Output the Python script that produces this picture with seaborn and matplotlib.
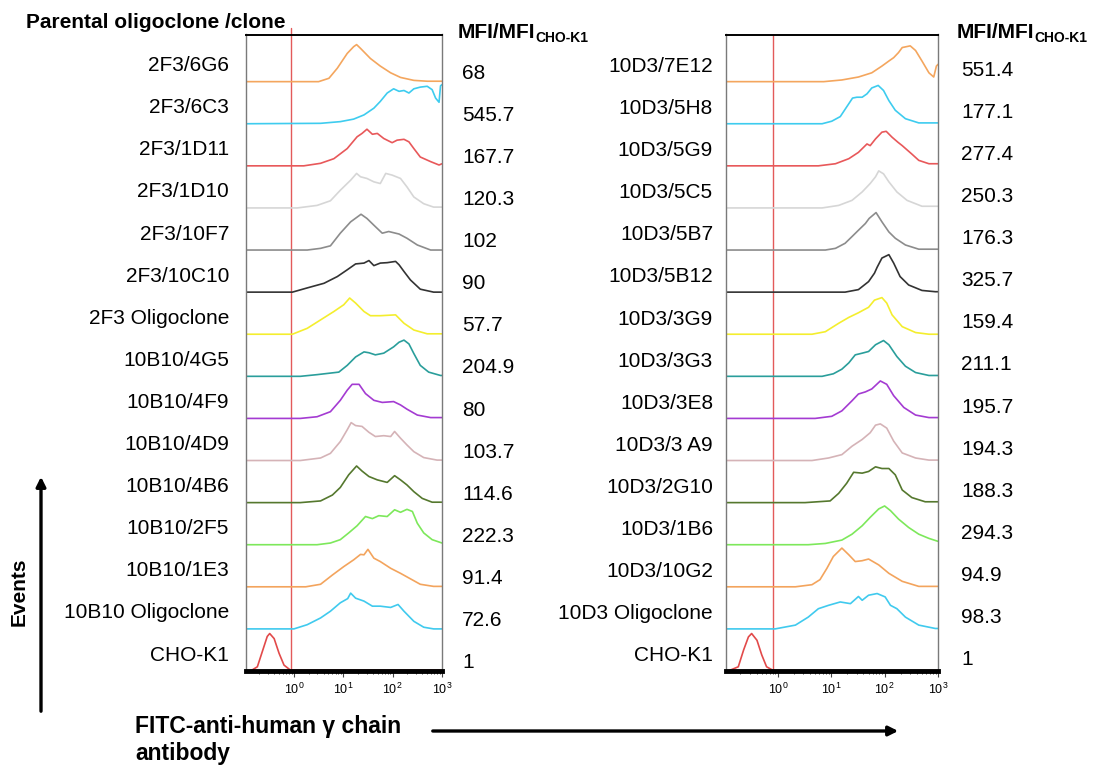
import numpy as np
import pandas as pd
import matplotlib
matplotlib.use("Agg")
import matplotlib.pyplot as plt
from matplotlib.patches import FancyArrowPatch
import seaborn as sns

# ==============================
# DATA
# each curve: (log10 FITC intensity, events relative to row height)
# ==============================
left_labels = ["2F3/6G6", "2F3/6C3", "2F3/1D11", "2F3/1D10", "2F3/10F7",
               "2F3/10C10", "2F3 Oligoclone", "10B10/4G5", "10B10/4F9",
               "10B10/4D9", "10B10/4B6", "10B10/2F5", "10B10/1E3",
               "10B10 Oligoclone", "CHO-K1"]
left_mfi = ["68", "545.7", "167.7", "120.3", "102", "90", "57.7", "204.9",
            "80", "103.7", "114.6", "222.3", "91.4", "72.6", "1"]

right_labels = ["10D3/7E12", "10D3/5H8", "10D3/5G9", "10D3/5C5", "10D3/5B7",
                "10D3/5B12", "10D3/3G9", "10D3/3G3", "10D3/3E8", "10D3/3 A9",
                "10D3/2G10", "10D3/1B6", "10D3/10G2", "10D3 Oligoclone",
                "CHO-K1"]
right_mfi = ["551.4", "177.1", "277.4", "250.3", "176.3", "325.7", "159.4",
             "211.1", "195.7", "194.3", "188.3", "294.3", "94.9", "98.3", "1"]

row_colors = ["#F4A65E", "#3ECCEF", "#E8585A", "#D6D6D6", "#8C8C8C",
              "#333333", "#F4EE2E", "#2A9E9B", "#A43BD2", "#D5B3B7",
              "#55782E", "#7DE85B", "#F3A45D", "#40CAEE", "#E24A4A"]

# left panel
c_2F3_6G6 = [(0.50, 0), (0.71, 0.08), (0.88, 0.32), (1.08, 0.67), (1.21, 0.83),
             (1.27, 0.88), (1.35, 0.79), (1.55, 0.55), (1.75, 0.37), (1.96, 0.21),
             (2.16, 0.10), (2.43, 0.03), (2.70, 0.01)]
c_2F3_6C3 = [(0.54, 0.01), (0.94, 0.05), (1.21, 0.11), (1.42, 0.21), (1.62, 0.37),
             (1.75, 0.53), (1.89, 0.73), (2.02, 0.83), (2.13, 0.77), (2.23, 0.79),
             (2.33, 0.73), (2.43, 0.83), (2.56, 0.87), (2.70, 0.89), (2.80, 0.81),
             (2.87, 0.61), (2.94, 0.51), (2.97, 0.90), (3.00, 0.93)]
c_2F3_1D11 = [(0.20, 0), (0.54, 0.06), (0.81, 0.17), (1.08, 0.41), (1.28, 0.69),
              (1.38, 0.77), (1.48, 0.87), (1.59, 0.75), (1.69, 0.77), (1.82, 0.65),
              (1.99, 0.55), (2.09, 0.61), (2.23, 0.63), (2.33, 0.57), (2.43, 0.41),
              (2.56, 0.21), (2.77, 0.10), (2.94, 0.02), (3.00, 0.05)]
c_2F3_1D10 = [(0.07, 0), (0.47, 0.06), (0.74, 0.17), (0.94, 0.42), (1.15, 0.66),
              (1.27, 0.82), (1.35, 0.74), (1.48, 0.70), (1.62, 0.62), (1.75, 0.58),
              (1.86, 0.82), (1.99, 0.78), (2.16, 0.70), (2.29, 0.50), (2.43, 0.26),
              (2.63, 0.10), (2.83, 0.02)]
c_2F3_10F7 = [(0.27, 0), (0.54, 0.04), (0.74, 0.10), (0.94, 0.40), (1.15, 0.67),
              (1.36, 0.85), (1.48, 0.75), (1.62, 0.59), (1.79, 0.40), (1.92, 0.44),
              (2.13, 0.38), (2.29, 0.28), (2.50, 0.12), (2.77, 0)]
c_2F3_10C10 = [(-0.03, 0), (0.27, 0.10), (0.61, 0.21), (0.88, 0.37), (1.08, 0.53),
               (1.25, 0.67), (1.42, 0.69), (1.52, 0.75), (1.62, 0.63), (1.75, 0.69),
               (1.89, 0.70), (2.06, 0.73), (2.13, 0.65), (2.23, 0.49), (2.36, 0.29),
               (2.56, 0.07), (2.83, 0)]
c_2F3_oligo = [(-0.03, 0), (0.27, 0.14), (0.54, 0.34), (0.81, 0.54), (1.01, 0.70),
               (1.13, 0.86), (1.25, 0.74), (1.42, 0.54), (1.55, 0.44), (1.75, 0.44),
               (2.06, 0.46), (2.23, 0.26), (2.43, 0.10), (2.70, 0.01)]
c_10B10_4G5 = [(0.13, 0), (0.47, 0.04), (0.91, 0.10), (1.08, 0.26), (1.25, 0.46),
               (1.42, 0.58), (1.52, 0.56), (1.65, 0.51), (1.82, 0.55), (2.02, 0.70),
               (2.13, 0.81), (2.23, 0.86), (2.33, 0.77), (2.43, 0.54), (2.56, 0.26),
               (2.73, 0.10), (2.97, 0.02)]
c_10B10_4F9 = [(0.13, 0), (0.47, 0.04), (0.74, 0.16), (0.94, 0.43), (1.08, 0.67),
               (1.18, 0.81), (1.32, 0.81), (1.45, 0.59), (1.62, 0.43), (1.79, 0.38),
               (2.02, 0.40), (2.16, 0.32), (2.29, 0.22), (2.50, 0.08), (2.77, 0.02)]
c_10B10_4D9 = [(0.13, 0), (0.54, 0.06), (0.74, 0.17), (0.94, 0.45), (1.08, 0.73),
               (1.16, 0.90), (1.25, 0.83), (1.38, 0.81), (1.52, 0.67), (1.65, 0.57),
               (1.82, 0.59), (1.96, 0.57), (2.04, 0.69), (2.16, 0.53), (2.29, 0.37),
               (2.43, 0.21), (2.63, 0.07), (2.90, 0.01)]
c_10B10_4B6 = [(0.13, 0), (0.54, 0.04), (0.78, 0.18), (0.94, 0.36), (1.11, 0.66),
               (1.27, 0.87), (1.38, 0.75), (1.52, 0.62), (1.69, 0.54), (1.89, 0.48),
               (2.04, 0.64), (2.16, 0.54), (2.29, 0.42), (2.43, 0.26), (2.60, 0.10),
               (2.80, 0.01)]
c_10B10_2F5 = [(0.47, 0), (0.74, 0.04), (0.94, 0.12), (1.11, 0.28), (1.28, 0.45),
               (1.45, 0.67), (1.59, 0.62), (1.72, 0.69), (1.89, 0.67), (2.04, 0.83),
               (2.16, 0.77), (2.29, 0.84), (2.40, 0.79), (2.50, 0.51), (2.63, 0.28),
               (2.80, 0.12), (3.00, 0.04)]
c_10B10_1E3 = [(0.24, 0), (0.54, 0.06), (0.78, 0.28), (1.01, 0.48), (1.21, 0.64),
               (1.35, 0.77), (1.42, 0.76), (1.50, 0.89), (1.62, 0.68), (1.75, 0.60),
               (1.96, 0.44), (2.16, 0.32), (2.36, 0.19), (2.56, 0.06), (2.83, 0.01)]
c_10B10_oligo = [(0.00, 0), (0.27, 0.10), (0.54, 0.26), (0.74, 0.42), (0.94, 0.62),
                 (1.09, 0.72), (1.15, 0.85), (1.25, 0.73), (1.42, 0.66), (1.59, 0.54),
                 (1.75, 0.54), (1.96, 0.51), (2.11, 0.58), (2.23, 0.42), (2.43, 0.18),
                 (2.63, 0.04), (2.83, 0)]
c_cho_left = [(-0.88, 0), (-0.74, 0.10), (-0.64, 0.46), (-0.54, 0.82), (-0.49, 0.89),
              (-0.40, 0.77), (-0.30, 0.42), (-0.20, 0.14), (-0.07, 0.02)]

# right panel
c_10D3_7E12 = [(0.86, 0), (1.20, 0.04), (1.51, 0.11), (1.76, 0.21), (1.95, 0.37),
               (2.08, 0.49), (2.17, 0.57), (2.26, 0.69), (2.33, 0.81), (2.48, 0.85),
               (2.58, 0.74), (2.70, 0.49), (2.83, 0.21), (2.92, 0.11), (2.97, 0.37),
               (3.00, 0.41)]
c_10D3_5H8 = [(0.83, 0), (1.01, 0.06), (1.17, 0.17), (1.29, 0.40), (1.40, 0.61),
              (1.48, 0.63), (1.58, 0.63), (1.67, 0.71), (1.76, 0.85), (1.88, 0.91),
              (1.98, 0.79), (2.08, 0.55), (2.20, 0.32), (2.39, 0.12), (2.64, 0.02)]
c_10D3_5G9 = [(0.76, 0), (1.08, 0.05), (1.33, 0.17), (1.51, 0.32), (1.67, 0.52),
              (1.73, 0.48), (1.83, 0.64), (1.95, 0.80), (2.03, 0.82), (2.14, 0.68),
              (2.25, 0.56), (2.33, 0.48), (2.51, 0.28), (2.64, 0.13), (2.83, 0.05),
              (3.00, 0.05)]
c_10D3_5C5 = [(0.83, 0), (1.14, 0.06), (1.39, 0.18), (1.58, 0.38), (1.73, 0.58),
              (1.83, 0.74), (1.89, 0.88), (1.98, 0.81), (2.08, 0.62), (2.23, 0.38),
              (2.42, 0.18), (2.70, 0.04)]
c_10D3_5B7 = [(0.89, 0), (1.08, 0.04), (1.26, 0.16), (1.39, 0.32), (1.51, 0.47),
              (1.64, 0.63), (1.71, 0.75), (1.84, 0.89), (1.95, 0.67), (2.08, 0.43),
              (2.20, 0.28), (2.39, 0.12), (2.64, 0.02)]
c_10D3_5B12 = [(1.26, 0), (1.51, 0.06), (1.70, 0.25), (1.81, 0.45), (1.86, 0.59),
               (1.95, 0.81), (2.08, 0.89), (2.17, 0.69), (2.29, 0.37), (2.45, 0.17),
               (2.70, 0.04), (2.95, 0.01)]
c_10D3_3G9 = [(0.64, 0), (0.89, 0.06), (1.14, 0.26), (1.33, 0.40), (1.51, 0.51),
              (1.70, 0.64), (1.81, 0.81), (1.95, 0.87), (2.04, 0.74), (2.14, 0.46),
              (2.33, 0.18), (2.58, 0.04), (2.83, 0)]
c_10D3_3G3 = [(0.83, 0), (1.04, 0.06), (1.20, 0.17), (1.33, 0.32), (1.45, 0.51),
              (1.58, 0.55), (1.70, 0.59), (1.83, 0.75), (1.98, 0.85), (2.08, 0.75),
              (2.23, 0.47), (2.39, 0.24), (2.58, 0.09), (2.83, 0.02)]
c_10D3_3E8 = [(0.70, 0), (1.01, 0.05), (1.20, 0.18), (1.39, 0.42), (1.51, 0.58),
              (1.64, 0.63), (1.76, 0.70), (1.92, 0.89), (2.04, 0.81), (2.17, 0.54),
              (2.36, 0.26), (2.58, 0.08), (2.83, 0.02)]
c_10D3_3A9 = [(0.64, 0), (0.95, 0.06), (1.20, 0.14), (1.39, 0.34), (1.58, 0.50),
              (1.73, 0.66), (1.83, 0.84), (1.92, 0.87), (2.04, 0.77), (2.17, 0.46),
              (2.33, 0.18), (2.58, 0.06), (2.83, 0.01)]
c_10D3_2G10 = [(0.51, 0), (0.98, 0.04), (1.14, 0.22), (1.29, 0.46), (1.42, 0.72),
               (1.58, 0.70), (1.70, 0.74), (1.83, 0.85), (1.95, 0.81), (2.08, 0.81),
               (2.20, 0.66), (2.33, 0.30), (2.51, 0.12), (2.76, 0.02)]
c_10D3_1B6 = [(0.57, 0), (0.89, 0.03), (1.20, 0.11), (1.39, 0.25), (1.58, 0.45),
              (1.73, 0.65), (1.89, 0.85), (2.00, 0.92), (2.11, 0.81), (2.26, 0.61),
              (2.45, 0.41), (2.64, 0.25), (2.83, 0.15), (3.00, 0.08)]
c_10D3_10G2 = [(0.33, 0), (0.64, 0.05), (0.79, 0.17), (0.92, 0.44), (1.04, 0.72),
               (1.20, 0.92), (1.33, 0.76), (1.45, 0.60), (1.58, 0.62), (1.70, 0.66),
               (1.89, 0.52), (2.08, 0.32), (2.33, 0.13), (2.64, 0.01)]
c_10D3_oligo = [(-0.05, 0), (0.33, 0.09), (0.57, 0.28), (0.76, 0.48), (0.95, 0.56),
                (1.17, 0.64), (1.36, 0.60), (1.51, 0.77), (1.58, 0.68), (1.70, 0.80),
                (1.86, 0.84), (2.01, 0.76), (2.11, 0.56), (2.23, 0.48), (2.39, 0.28),
                (2.64, 0.09), (2.95, 0.01)]
c_cho_right = [(-0.93, 0), (-0.74, 0.10), (-0.64, 0.50), (-0.55, 0.81), (-0.49, 0.89),
               (-0.39, 0.73), (-0.30, 0.38), (-0.21, 0.10), (-0.08, 0.01)]

left_curves = [c_2F3_6G6, c_2F3_6C3, c_2F3_1D11, c_2F3_1D10, c_2F3_10F7,
               c_2F3_10C10, c_2F3_oligo, c_10B10_4G5, c_10B10_4F9, c_10B10_4D9,
               c_10B10_4B6, c_10B10_2F5, c_10B10_1E3, c_10B10_oligo, c_cho_left]
right_curves = [c_10D3_7E12, c_10D3_5H8, c_10D3_5G9, c_10D3_5C5, c_10D3_5B7,
                c_10D3_5B12, c_10D3_3G9, c_10D3_3G3, c_10D3_3E8, c_10D3_3A9,
                c_10D3_2G10, c_10D3_1B6, c_10D3_10G2, c_10D3_oligo, c_cho_right]

LOG_MIN, LOG_MAX = -0.97, 3.0
N_ROWS = 15
Y_TOP = 15.12

# ==============================
# STYLE
# ==============================
sns.set_style("white")
plt.rcParams["font.family"] = ["Liberation Sans", "DejaVu Sans"]
plt.rcParams["text.color"] = "black"
plt.rcParams["xtick.color"] = "black"
plt.rcParams["xtick.labelcolor"] = "black"

W, H = 1094, 766
fig = plt.figure(figsize=(W / 100, H / 100), dpi=100)


def px(x, y):
    return x / W, 1 - y / H


def draw_panel(ax, curves, labels, mfi, red_log, label_x, mfi_x,
               label_dy, mfi_dy, red_top):
    for i, (pts, color) in enumerate(zip(curves, row_colors)):
        offset = N_ROWS - 1 - i
        logx = [LOG_MIN] + [p[0] for p in pts] + [LOG_MAX]
        h = [0] + [p[1] for p in pts] + [pts[-1][1]]
        df = pd.DataFrame({
            "fitc": 10 ** np.array(logx),
            "events": np.array(h) + offset,
        })
        sns.lineplot(data=df, x="fitc", y="events", color=color,
                     linewidth=1.2, sort=False, estimator=None, ax=ax)
        ax.text(label_x, offset + label_dy, labels[i],
                transform=ax.get_yaxis_transform(), ha="right",
                va="center", fontsize=15, color="black")
        ax.text(mfi_x, offset + mfi_dy, mfi[i],
                transform=ax.get_yaxis_transform(), ha="left",
                va="center", fontsize=15, color="black")

    ax.axvline(10 ** red_log, ymin=0, ymax=red_top, color="#E35A5A",
               linewidth=1, clip_on=False, zorder=1)

    ax.set_xscale("log")
    ax.set_xlim(10 ** LOG_MIN, 10 ** LOG_MAX)
    ax.set_ylim(0, Y_TOP)
    ax.set_yticks([])
    ax.set_xlabel("")
    ax.set_ylabel("")
    ax.tick_params(axis="x", which="major", direction="out", length=4,
                   width=0.8, color="#444444", labelsize=9, pad=4,
                   bottom=True)
    ax.tick_params(axis="x", which="minor", direction="out", length=2.5,
                   width=0.7, color="#444444", bottom=True)

    ax.spines["top"].set_color("black")
    ax.spines["top"].set_linewidth(1.4)
    ax.spines["left"].set_color("#7A7A7A")
    ax.spines["right"].set_color("#7A7A7A")
    ax.spines["left"].set_linewidth(1)
    ax.spines["right"].set_linewidth(1)
    ax.spines["bottom"].set_color("black")
    ax.spines["bottom"].set_linewidth(3.5)
    ax.spines["bottom"].set_zorder(3)


# ==============================
# PANELS
# ==============================
ax_l = fig.add_axes([246 / W, 1 - 671 / H, 196 / W, 636.5 / H])
ax_r = fig.add_axes([726 / W, 1 - 671 / H, 212 / W, 636.5 / H])

draw_panel(ax_l, left_curves, left_labels, left_mfi, -0.05,
           label_x=(229 - 246) / 196, mfi_x=(462 - 246) / 196,
           label_dy=0.38, mfi_dy=0.2, red_top=1.01)
draw_panel(ax_r, right_curves, right_labels, right_mfi, -0.09,
           label_x=(713 - 726) / 212, mfi_x=(961 - 726) / 212,
           label_dy=0.36, mfi_dy=0.27, red_top=1.0)

# ==============================
# HEADERS AND AXIS TEXT
# ==============================
fig.text(*px(26, 28.5), "Parental oligoclone /clone", fontsize=15,
         fontweight="bold", ha="left", va="baseline")

for x0 in (458, 957):
    t = fig.text(*px(x0, 38.3), "MFI/MFI", fontsize=15, fontweight="bold",
                 ha="left", va="baseline")
    fig.add_artist(plt.Annotation("CHO-K1", xy=(1, 0), xycoords=t,
                                  xytext=(0, 0), textcoords="offset points",
                                  fontsize=10, fontweight="bold",
                                  ha="left", va="baseline", color="black"))

fig.text(*px(19, 592), "Events", rotation=90, fontsize=15,
         fontweight="bold", ha="center", va="center")

fig.text(*px(135, 733), "FITC-anti-human \u03b3 chain", fontsize=16.5,
         fontweight="bold", ha="left", va="baseline")
fig.text(*px(135, 760), "antibody", fontsize=16.5,
         fontweight="bold", ha="left", va="baseline")

fig.add_artist(FancyArrowPatch(px(41, 714), px(41, 474),
                               transform=fig.transFigure, arrowstyle="-|>",
                               mutation_scale=14, linewidth=2.4,
                               color="black"))
fig.add_artist(FancyArrowPatch(px(430, 731), px(901, 731),
                               transform=fig.transFigure, arrowstyle="-|>",
                               mutation_scale=14, linewidth=2.4,
                               color="black"))

fig.savefig("out.png", dpi=100)
plt.close(fig)
